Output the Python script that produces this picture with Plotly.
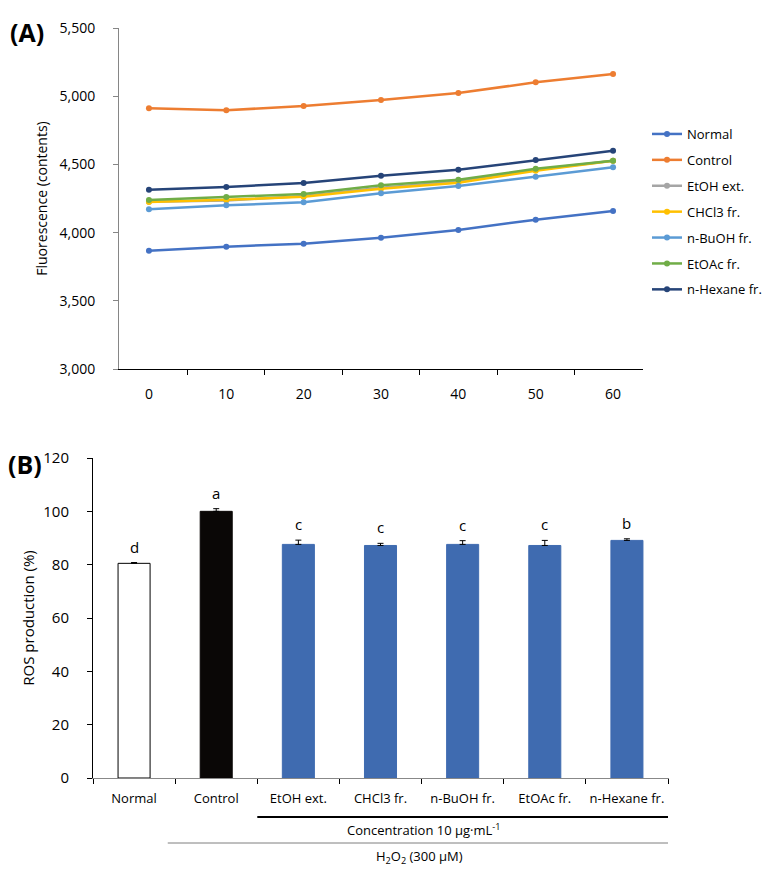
import plotly.graph_objects as go

# ---------------- data ----------------
time_points = ["0", "10", "20", "30", "40", "50", "60"]
series_names = ["Normal", "Control", "EtOH ext.", "CHCl3 fr.", "n-BuOH fr.", "EtOAc fr.", "n-Hexane fr."]
normal_vals = [3867, 3897, 3919, 3963, 4019, 4095, 4158]
control_vals = [4911, 4897, 4928, 4972, 5023, 5102, 5163]
etoh_vals = [4227, 4235, 4268, 4328, 4375, 4460, 4527]
chcl3_vals = [4225, 4240, 4263, 4322, 4366, 4454, 4527]
buoh_vals = [4171, 4200, 4222, 4288, 4342, 4410, 4479]
etoac_vals = [4239, 4261, 4283, 4347, 4388, 4468, 4527]
hexane_vals = [4315, 4334, 4364, 4417, 4461, 4532, 4600]
line_colors = ["#4472C4", "#ED7D31", "#A5A5A5", "#FFC000", "#5B9BD5", "#70AD47", "#264478"]

bar_categories = ["Normal", "Control", "EtOH ext.", "CHCl3 fr.", "n-BuOH fr.", "EtOAc fr.", "n-Hexane fr."]
ros_values = [80.5, 100.0, 87.6, 87.2, 87.6, 87.2, 89.1]
ros_errors = [0.3, 1.0, 1.6, 0.8, 1.4, 1.9, 0.6]
sig_letters = ["d", "a", "c", "c", "c", "c", "b"]
bar_fill = ["#FFFFFF", "#0A0706", "#3F6BB0", "#3F6BB0", "#3F6BB0", "#3F6BB0", "#3F6BB0"]
bar_outline = ["#000000", "#0A0706", "#3F6BB0", "#3F6BB0", "#3F6BB0", "#3F6BB0", "#3F6BB0"]

W, H = 778, 875
FONT = "Open Sans"

def fx(px):
    return px / W

def fy(py):
    return 1 - py / H

fig = go.Figure()

all_series = [normal_vals, control_vals, etoh_vals, chcl3_vals, buoh_vals, etoac_vals, hexane_vals]
for i, (name, vals) in enumerate(zip(series_names, all_series)):
    fig.add_trace(go.Scatter(
        x=time_points, y=vals, name=name, mode="lines+markers",
        line=dict(color=line_colors[i], width=2.5),
        marker=dict(color=line_colors[i], size=6),
        xaxis="x", yaxis="y", legendgroup=name,
    ))

fig.add_trace(go.Bar(
    x=bar_categories, y=ros_values, width=0.39,
    marker=dict(color=bar_fill, line=dict(color=bar_outline, width=1)),
    error_y=dict(type="data", array=ros_errors, arrayminus=[0] * len(ros_errors),
                 symmetric=False, color="#000000", thickness=1, width=3),
    xaxis="x2", yaxis="y2", showlegend=False,
))

annotations = []
for cat, v, e, letter in zip(bar_categories, ros_values, ros_errors, sig_letters):
    annotations.append(dict(x=cat, y=v + e, xref="x2", yref="y2", text=letter,
                            showarrow=False, yanchor="bottom", yshift=4,
                            font=dict(size=15, color="#000000", family=FONT)))

annotations += [
    dict(x=fx(27), y=fy(32), xref="paper", yref="paper", text="<b>(A)</b>", showarrow=False,
         font=dict(size=25, color="#000000", family=FONT), xanchor="center", yanchor="middle"),
    dict(x=fx(25), y=fy(464), xref="paper", yref="paper", text="<b>(B)</b>", showarrow=False,
         font=dict(size=25, color="#000000", family=FONT), xanchor="center", yanchor="middle"),
    dict(x=fx(424), y=fy(829), xref="paper", yref="paper",
         text="Concentration 10 μg·mL<sup>-1</sup>", showarrow=False,
         font=dict(size=13, color="#000000", family=FONT), xanchor="center", yanchor="middle"),
    dict(x=fx(419), y=fy(857), xref="paper", yref="paper",
         text="H<sub>2</sub>O<sub>2</sub> (300 μM)", showarrow=False,
         font=dict(size=13, color="#000000", family=FONT), xanchor="center", yanchor="middle"),
]

shapes = [
    dict(type="line", xref="x2", yref="paper", x0=1.5, x1=6.5, y0=fy(817), y1=fy(817),
         line=dict(color="#000000", width=2)),
    dict(type="line", xref="x2", yref="paper", x0=0.41, x1=6.5, y0=fy(843), y1=fy(843),
         line=dict(color="#7F7F7F", width=1)),
]

fig.update_layout(
    width=W, height=H,
    margin=dict(l=0, r=0, t=0, b=0, autoexpand=False),
    paper_bgcolor="white", plot_bgcolor="white",
    font=dict(family=FONT, color="#000000", size=13),
    xaxis=dict(domain=[fx(119), fx(643)], anchor="y", type="category", automargin=False,
               tickson="boundaries", ticks="outside", ticklen=5, tickcolor="#000000",
               showline=True, linecolor="#000000", linewidth=1, showgrid=False, tickangle=0,
               tickfont=dict(size=14), ticklabelstandoff=12),
    yaxis=dict(domain=[fy(369), fy(28)], anchor="x", range=[3000, 5500], dtick=500,
               tickformat=",", ticks="outside", ticklen=5, tickcolor="#868686", automargin=False,
               showline=True, linecolor="#868686", linewidth=1, showgrid=False, zeroline=False,
               tickfont=dict(size=14), ticklabelstandoff=15,
               title=dict(text="Fluorescence (contents)", font=dict(size=14), standoff=8)),
    xaxis2=dict(domain=[fx(93), fx(669)], anchor="y2", type="category", automargin=False,
                tickson="boundaries", ticks="outside", ticklen=5, tickcolor="#000000",
                showline=True, linecolor="#888888", linewidth=1, showgrid=False, tickangle=0,
                tickfont=dict(size=13), ticklabelstandoff=8),
    yaxis2=dict(domain=[fy(778), fy(458)], anchor="x2", range=[0, 120], dtick=20, automargin=False,
                ticks="outside", ticklen=5, tickcolor="#000000",
                showline=True, linecolor="#000000", linewidth=1, showgrid=False, zeroline=False,
                tickfont=dict(size=15), ticklabelstandoff=15,
                title=dict(text="ROS production (%)", font=dict(size=15), standoff=5)),
    legend=dict(x=fx(647), y=fy(119), xanchor="left", yanchor="top",
                font=dict(size=13, family=FONT), tracegroupgap=6, itemwidth=30,
                bgcolor="rgba(0,0,0,0)"),
    annotations=annotations,
    shapes=shapes,
    bargap=0.6,
)

fig.write_html("out.html", config={"displayModeBar": False},
               post_script="document.body.style.margin='0';document.body.style.overflow='hidden';")
